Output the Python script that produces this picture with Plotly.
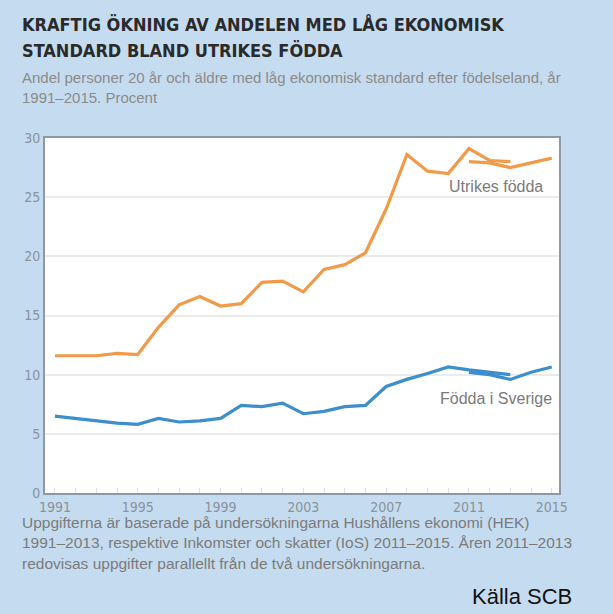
import plotly.graph_objects as go

# ---- data ----
years_hek = list(range(1991, 2014))
utrikes_hek = [11.6, 11.6, 11.6, 11.8, 11.7, 14.0, 15.9, 16.6, 15.8, 16.0, 17.8, 17.9,
               17.0, 18.9, 19.3, 20.3, 24.0, 28.6, 27.2, 27.0, 29.1, 28.1, 28.0]
sverige_hek = [6.5, 6.3, 6.1, 5.9, 5.8, 6.3, 6.0, 6.1, 6.3, 7.4, 7.3, 7.6,
               6.7, 6.9, 7.3, 7.4, 9.0, 9.6, 10.1, 10.65, 10.4, 10.2, 10.0]
years_ios = [2011, 2012, 2013, 2014, 2015]
utrikes_ios = [28.0, 27.9, 27.5, 27.9, 28.3]
sverige_ios = [10.2, 10.0, 9.6, 10.2, 10.65]

x_ticks = [1991, 1995, 1999, 2003, 2007, 2011, 2015]
y_ticks = [0, 5, 10, 15, 20, 25, 30]

title_lines = ["KRAFTIG ÖKNING AV ANDELEN MED LÅG EKONOMISK",
               "STANDARD BLAND UTRIKES FÖDDA"]
subtitle_lines = ["Andel personer 20 år och äldre med låg ekonomisk standard efter födelseland, år",
                  "1991–2015. Procent"]
footer_lines = ["Uppgifterna är baserade på undersökningarna Hushållens ekonomi (HEK)",
                "1991–2013, respektive Inkomster och skatter (IoS) 2011–2015. Åren 2011–2013",
                "redovisas uppgifter parallellt från de två undersökningarna."]
source = "Källa SCB"

# ---- style ----
W, H = 613, 614
L, R, T, B = 45, 559, 138, 493
BG = "#c5dcf0"
ORANGE = "#f09a4a"
BLUE = "#3c8fcc"
NARROW = "DejaVu Sans Condensed, Liberation Sans Narrow, Roboto, sans-serif"
TEXT = "Liberation Sans, Arial, sans-serif"

def px(xp):
    return (xp - L) / (R - L)

def py(yp):
    return (B - yp) / (B - T)

fig = go.Figure()
for yrs, vals, col in [(years_hek, utrikes_hek, ORANGE), (years_ios, utrikes_ios, ORANGE),
                       (years_hek, sverige_hek, BLUE), (years_ios, sverige_ios, BLUE)]:
    fig.add_trace(go.Scatter(x=yrs, y=vals, mode="lines",
                             line=dict(color=col, width=3.2), hoverinfo="skip",
                             showlegend=False))

ann = []
for i, t in enumerate(title_lines):
    ann.append(dict(x=px(20), y=py(24 + i * 26), text="<b>" + t + "</b>", showarrow=False,
                    xref="paper", yref="paper", xanchor="left", yanchor="middle",
                    font=dict(family=NARROW, size=18, color="#2a2a2a")))
for i, t in enumerate(subtitle_lines):
    ann.append(dict(x=px(20), y=py(77 + i * 21), text=t, showarrow=False,
                    xref="paper", yref="paper", xanchor="left", yanchor="middle",
                    font=dict(family=TEXT, size=15, color="#8a8a8a")))
for i, t in enumerate(footer_lines):
    ann.append(dict(x=px(20), y=py(522 + i * 20.5), text=t, showarrow=False,
                    xref="paper", yref="paper", xanchor="left", yanchor="middle",
                    font=dict(family=TEXT, size=15.5, color="#7a7a7a")))
ann.append(dict(x=px(470), y=py(596), text=source, showarrow=False,
                xref="paper", yref="paper", xanchor="left", yanchor="middle",
                font=dict(family=TEXT, size=22, color="#111111")))
ann.append(dict(x=px(496), y=py(186), text="Utrikes födda", showarrow=False,
                xref="paper", yref="paper", xanchor="center", yanchor="middle",
                font=dict(family=TEXT, size=16, color="#7a7a7a")))
ann.append(dict(x=px(496), y=py(398), text="Födda i Sverige", showarrow=False,
                xref="paper", yref="paper", xanchor="center", yanchor="middle",
                font=dict(family=TEXT, size=16, color="#7a7a7a")))

fig.update_layout(
    width=W, height=H,
    margin=dict(l=L, r=W - R, t=T, b=H - B),
    paper_bgcolor=BG, plot_bgcolor="white",
    annotations=ann,
    xaxis=dict(range=[1990.52, 2015.35], tickvals=x_ticks, ticktext=[str(v) for v in x_ticks],
               showgrid=False, zeroline=False, showline=True, mirror=True,
               linecolor="#8c99a6", linewidth=2, ticks="",
               tickfont=dict(family=NARROW, size=14, color="#8a929c"),
               minor=dict(ticks="inside", dtick=1, tick0=1991, ticklen=5,
                          tickcolor="#e2e2e2", tickwidth=1, showgrid=False),
               fixedrange=True),
    yaxis=dict(range=[0, 30], tickvals=y_ticks, showgrid=True, gridcolor="#ebebeb",
               gridwidth=2, zeroline=False, showline=True, mirror=True,
               linecolor="#8c99a6", linewidth=2, ticks="",
               tickfont=dict(family=NARROW, size=14, color="#8a929c"),
               fixedrange=True),
)

fig.write_html("out.html", config={"displayModeBar": False},
               post_script="document.body.style.margin='0';")
